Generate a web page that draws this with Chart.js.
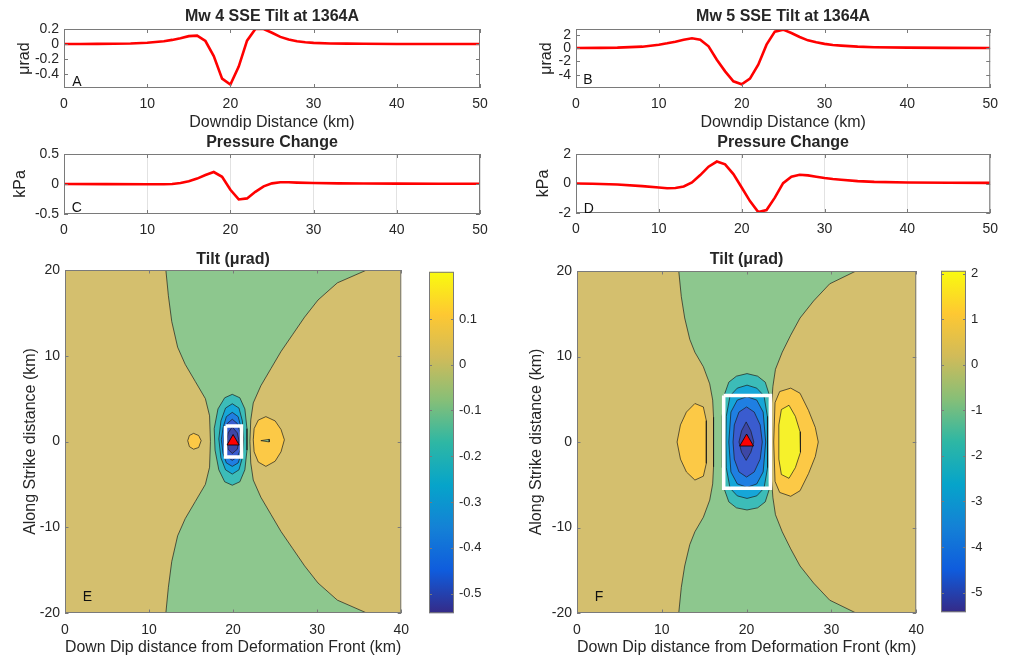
<!DOCTYPE html>
<html><head><meta charset="utf-8">
<script src="https://cdn.jsdelivr.net/npm/chart.js@4.4.1/dist/chart.umd.min.js"></script>
<style>
html,body{margin:0;padding:0;background:#fff;}
#wrap{position:relative;width:1010px;height:660px;overflow:hidden;background:#fff;}
canvas{position:absolute;}
</style></head><body><div id="wrap"></div>
<script>
// ---------- line panels (A-D) ----------
const tiltMw4X = [0,2,4,6,8,10,11,12,13,14,15,16,17,18,19,20,21,22,23,24,25,26,27,28,29,30,32,34,36,40,45,50];
const tiltMw4Y = [0,0.001,0.002,0.004,0.008,0.018,0.027,0.038,0.055,0.078,0.105,0.112,0.04,-0.16,-0.46,-0.54,-0.3,0.045,0.2,0.2,0.15,0.095,0.06,0.037,0.024,0.016,0.008,0.005,0.003,0.001,0.0005,0];
const tiltMw5X = [0,3,5,8,10,11,12,13,14,15,16,17,18,19,20,21,22,23,24,25,26,27,28,29,30,31,32,34,36,40,45,50];
const tiltMw5Y = [0,0.02,0.05,0.2,0.5,0.7,0.95,1.25,1.45,1.25,0.25,-1.75,-3.5,-5.0,-5.45,-4.6,-2.5,0.5,2.45,2.75,2.25,1.65,1.15,0.85,0.62,0.45,0.35,0.2,0.12,0.05,0.02,0.01];
const presMw4X = [0,5,10,12,13,14,15,16,17,18,19,20,21,22,23,24,25,26,27,28,30,33,36,40,45,50];
const presMw4Y = [0,-0.002,-0.005,-0.005,0,0.017,0.046,0.09,0.15,0.2,0.12,-0.097,-0.257,-0.24,-0.13,-0.04,0.011,0.029,0.029,0.023,0.017,0.011,0.008,0.006,0.004,0.003];
const presMw5X = [0,2,5,8,10,11,12,13,14,15,16,17,18,19,20,21,22,23,24,25,26,27,28,29,30,31,32,34,36,40,45,50];
const presMw5Y = [0,-0.02,-0.07,-0.18,-0.27,-0.32,-0.3,-0.2,0.07,0.57,1.14,1.49,1.3,0.64,-0.27,-1.19,-1.94,-1.8,-0.96,0.02,0.46,0.59,0.55,0.46,0.37,0.3,0.25,0.16,0.11,0.07,0.05,0.04];

const xTicks50 = [0,10,20,30,40,50];
const yTicksA = [-0.4,-0.2,0,0.2];
const yTicksB = [-4,-2,0,2];
const yTicksC = [-0.5,0,0.5];
const yTicksD = [-2,0,2];

// ---------- contour panels (E, F) ----------
const xTicks40 = [0,10,20,30,40];
const yTicks20 = [-20,-10,0,10,20];
const cbTicksE = [-0.5,-0.4,-0.3,-0.2,-0.1,0,0.1];
const cbTicksF = [-5,-4,-3,-2,-1,0,1,2];
const cbRangeE = [-0.543, 0.203];
const cbRangeF = [-5.43, 2.06];

// Mw 4 contour outlines (km)
const eGreenX = [12.0,12.3,12.7,13.4,14.3,15.5,16.7,17.2,17.3,17.2,16.7,15.5,14.3,13.4,12.7,12.3,12.0, 35.9,32.4,30.1,28.5,27.1,25.7,24.5,23.3,22.4,22.1,22.0,22.1,22.4,23.3,24.5,25.7,27.1,28.5,30.1,32.4,35.9];
const eGreenY = [20,17,14,11,9,7,5,3,0,-3,-5,-7,-9,-11,-14,-17,-20, -20,-18.5,-16.5,-14.5,-12.5,-10.5,-8.5,-6.5,-4.5,-2.5,0,2.5,4.5,6.5,8.5,10.5,12.5,14.5,16.5,18.5,20];
const eL1X = [19.9,20.8,21.4,21.65,21.65,21.4,20.8,19.9,19.0,18.3,17.85,17.75,18.2,19.0];
const eL1Y = [5.5,5.1,3.8,1.5,-1.0,-3.3,-4.7,-5.1,-4.7,-3.3,-1.0,1.5,3.8,5.1];
const eL2X = [19.9,20.7,21.1,21.25,21.1,20.7,19.9,19.1,18.55,18.3,18.55,19.1];
const eL2Y = [4.4,3.9,2.4,0.3,-1.9,-3.3,-3.8,-3.3,-1.9,0.3,2.4,3.9];
const eL3X = [19.9,20.6,20.95,21.0,20.95,20.6,19.9,19.2,18.8,18.6,18.8,19.2];
const eL3Y = [3.4,2.9,1.6,0.2,-1.4,-2.5,-2.9,-2.5,-1.4,0.2,1.6,2.9];
const eL4X = [19.9,20.5,20.85,20.9,20.85,20.5,19.9,19.3,19.0,18.9,19.0,19.3];
const eL4Y = [2.6,2.1,1.0,0.1,-0.9,-1.8,-2.2,-1.8,-0.9,0.1,1.0,2.1];
const eL5X = [19.9,20.5,20.7,20.5,19.9,19.4,19.25,19.4];
const eL5Y = [1.7,1.0,0.1,-0.9,-1.4,-0.9,0.1,1.0];
const eOrangeLX = [15.3,15.9,16.2,15.9,15.3,14.8,14.6,14.8];
const eOrangeLY = [0.95,0.7,0.1,-0.7,-0.9,-0.6,0.1,0.7];
const eOrangeRX = [23.9,25.0,25.7,26.1,25.7,25.0,23.9,23.0,22.5,22.4,22.5,23.0];
const eOrangeRY = [2.9,2.4,1.4,0.2,-1.2,-2.3,-2.9,-2.4,-1.2,0.2,1.5,2.5];
const eSliverX = [23.3,24.3,24.3];
const eSliverY = [0.1,0.25,-0.05];
const eBoxX = [19.1,21.0,21.0,19.1];
const eBoxY = [1.8,1.8,-1.8,-1.8];

// Mw 5 contour outlines (km)
const fGreenX = [12.0,12.3,12.7,13.3,13.9,14.9,15.65,16.0,16.1,16.1,16.1,16.0,15.65,14.9,13.9,13.3,12.7,12.3,12.0, 32.9,29.8,27.9,26.3,25.2,24.2,23.4,23.1,22.95,22.95,22.95,23.1,23.4,24.2,25.2,26.3,27.9,29.8,32.9];
const fGreenY = [20,17,14.5,12,10.5,8.8,6.8,4.9,2.9,0,-2.9,-4.9,-6.8,-8.8,-10.5,-12,-14.5,-17,-20, -20,-18.5,-16.5,-14.5,-12.5,-10.5,-8.5,-6.5,-4.5,0,4.5,6.5,8.5,10.5,12.5,14.5,16.5,18.5,20];
const fL1X = [20.05,21.3,22.2,22.65,22.8,22.8,22.8,22.65,22.2,21.3,20.05,18.8,17.9,17.4,17.15,17.1,17.15,17.4,17.9,18.8];
const fL1Y = [8.0,7.7,7.0,5.6,3.0,0,-3.0,-5.6,-7.0,-7.7,-7.95,-7.7,-7.0,-5.6,-3.0,0,3.0,5.6,7.0,7.7];
const fL2X = [20.05,21.2,22.05,22.45,22.5,22.45,22.05,21.2,20.05,18.9,18.05,17.6,17.55,17.6,18.05,18.9];
const fL2Y = [6.65,6.3,5.4,3.0,0,-3.0,-5.4,-6.3,-6.6,-6.3,-5.4,-3.0,0,3.0,5.4,6.3];
const fL3X = [20.05,21.2,21.95,22.25,21.95,21.2,20.05,18.9,18.15,17.9,18.15,18.9];
const fL3Y = [5.3,4.9,3.5,0,-3.5,-4.9,-5.3,-4.9,-3.5,0,3.5,4.9];
const fL4X = [20.0,20.9,21.6,21.85,21.6,20.9,20.0,19.1,18.55,18.4,18.55,19.1];
const fL4Y = [4.1,3.5,2.0,0,-2.0,-3.5,-4.1,-3.5,-2.0,0,2.0,3.5];
const fL5X = [19.95,20.5,20.85,20.5,19.95,19.4,19.1,19.4];
const fL5Y = [2.35,1.3,0,-1.2,-2.15,-1.2,0,1.3];
const fOrangeLX = [13.9,14.9,15.25,15.25,14.9,13.9,12.9,12.2,11.8,12.2,12.9];
const fOrangeLY = [4.5,4.1,2.5,-2.5,-4.0,-4.45,-3.5,-2.0,0,2.0,3.5];
const fOrangeRX = [25.2,26.3,27.3,28.1,28.45,28.1,27.3,26.3,25.2,23.9,23.35,23.2,23.35,23.9];
const fOrangeRY = [6.3,5.7,3.7,1.7,0,-1.7,-3.7,-5.7,-6.35,-5.9,-4.6,0,4.6,5.9];
const fYellowX = [25.0,25.75,26.3,26.4,26.3,25.75,25.0,24.1,23.8,23.8,24.1];
const fYellowY = [4.3,3.0,1.2,0,-1.2,-3.0,-4.25,-3.8,-2.0,2.0,3.8];
const fBoxX = [17.3,22.8,22.8,17.3];
const fBoxY = [5.45,5.45,-5.4,-5.4];

const stationX = [20];
const stationY = [0];

// ---------- styling ----------
const OLIVE = '#D4BF6E', GREEN = '#8DC78E', TEAL = '#3CBCB8', CYAN = '#16A6D8',
      BLUE = '#1F7FE2', MBLUE = '#3A5CCF', DBLUE = '#3D47A6', ORANGE = '#FCC946', YELLOW = '#F6F12B';
const PARULA = [[0,'#352A87'],[0.125,'#0F5CDD'],[0.25,'#1481D6'],[0.375,'#06A4CA'],[0.5,'#2EB7A4'],[0.625,'#87BF77'],[0.75,'#D1BB59'],[0.875,'#FEC832'],[1,'#F9FB0E']];
const FONT = '"Liberation Sans", Arial, Helvetica, sans-serif';
Chart.defaults.font.family = FONT;
Chart.defaults.color = '#262626';

// ---------- plugins ----------
const matBox = {
  id: 'matBox',
  afterDatasetsDraw(chart, args, o) {
    const {ctx, chartArea: a, scales} = chart;
    ctx.save();
    ctx.strokeStyle = o.color || '#7a7a7a';
    ctx.lineWidth = 1;
    ctx.strokeRect(a.left + 0.5, a.top + 0.5, a.right - a.left - 1, a.bottom - a.top - 1);
    const L = o.tick || 4;
    ctx.beginPath();
    if (o.xTicks !== false) {
      for (const t of scales.x.ticks) {
        const p = Math.round(scales.x.getPixelForValue(t.value)) + 0.5;
        ctx.moveTo(p, a.bottom); ctx.lineTo(p, a.bottom - L);
        ctx.moveTo(p, a.top); ctx.lineTo(p, a.top + L);
      }
    }
    for (const t of scales.y.ticks) {
      const p = Math.round(scales.y.getPixelForValue(t.value)) + 0.5;
      ctx.moveTo(a.left, p); ctx.lineTo(a.left + L, p);
      ctx.moveTo(a.right, p); ctx.lineTo(a.right - L, p);
    }
    ctx.stroke();
    ctx.restore();
  }
};
const panelLabel = {
  id: 'panelLabel',
  afterDatasetsDraw(chart, args, o) {
    if (!o.text) return;
    const {ctx, chartArea: a} = chart;
    ctx.save();
    ctx.font = '14px ' + FONT;
    ctx.fillStyle = '#111';
    ctx.textAlign = 'center';
    ctx.textBaseline = 'middle';
    ctx.fillText(o.text, a.left + o.dx, a.bottom - o.dy);
    ctx.restore();
  }
};
const areaBg = {
  id: 'areaBg',
  beforeDatasetsDraw(chart, args, o) {
    if (!o.color) return;
    const {ctx, chartArea: a} = chart;
    ctx.save(); ctx.fillStyle = o.color;
    ctx.fillRect(a.left, a.top, a.right - a.left, a.bottom - a.top);
    ctx.restore();
  }
};

function makeCanvas(area, pad) {
  const c = document.createElement('canvas');
  const w = area.r - area.l + pad.l + pad.r, h = area.b - area.t + pad.t + pad.b;
  c.width = w; c.height = h;
  c.style.left = (area.l - pad.l) + 'px'; c.style.top = (area.t - pad.t) + 'px';
  c.style.width = w + 'px'; c.style.height = h + 'px';
  document.getElementById('wrap').appendChild(c);
  return c;
}
const pts = (xs, ys) => xs.map((x, i) => ({x, y: ys[i]}));
const ring = (xs, ys) => { const p = pts(xs, ys); p.push({...p[0]}); return p; };
const fixTicks = arr => s => { s.ticks = arr.map(v => ({value: v})); };

function lineChart(cfg) {
  const c = makeCanvas(cfg.area, cfg.pad);
  return new Chart(c, {
    type: 'line',
    data: {datasets: [{data: pts(cfg.xs, cfg.ys), borderColor: '#ff0000', borderWidth: 2.6,
      pointRadius: 0, tension: 0, fill: false}]},
    options: {
      responsive: false, animation: false, devicePixelRatio: 1,
      layout: {padding: {left: 0, top: 0, right: cfg.pad.r, bottom: 0}},
      plugins: {legend: {display: false}, tooltip: {enabled: false},
        matBox: {tick: 4}, panelLabel: {text: cfg.letter, dx: cfg.ldx, dy: cfg.ldy}},
      scales: {
        x: {type: 'linear', min: 0, max: 50, afterBuildTicks: fixTicks(xTicks50),
          ticks: {padding: 8, font: {size: 14}, maxRotation: 0, autoSkip: false, callback: v => String(v)},
          grid: {display: !!cfg.grid, color: '#e2e2e2', drawTicks: false},
          border: {display: false},
          title: cfg.xTitle ? {display: true, text: cfg.xTitle, font: {size: 16}, padding: {top: 0, bottom: 2.4}} : {display: false},
          afterFit: s => { s.height = cfg.pad.b; }},
        y: {type: 'linear', min: cfg.ymin, max: cfg.ymax, afterBuildTicks: fixTicks(cfg.yTicks),
          ticks: {padding: 5, font: {size: 14}, autoSkip: false, callback: v => String(v)},
          grid: {display: false, drawTicks: false}, border: {display: false},
          title: {display: true, text: cfg.yTitle, font: {size: 16}, padding: {top: cfg.ytp, bottom: 0}},
          afterFit: s => { s.width = cfg.pad.l; }},
        t: {axis: 'x', type: 'linear', position: 'top', min: 0, max: 50,
          ticks: {display: false}, grid: {display: false, drawTicks: false}, border: {display: false},
          title: {display: true, text: cfg.title, font: {size: 16, weight: 'bold'}, padding: {top: cfg.ttp, bottom: 0}},
          afterFit: s => { s.height = cfg.pad.t; }}
      }
    },
    plugins: [matBox, panelLabel]
  });
}

function contourChart(cfg) {
  const c = makeCanvas(cfg.area, cfg.pad);
  const n = cfg.polys.length;
  const datasets = cfg.polys.map((p, i) => ({
    data: ring(p.x, p.y), showLine: true, fill: 'shape', backgroundColor: p.color,
    borderColor: 'rgba(25,25,25,0.85)', borderWidth: 0.8, pointRadius: 0, tension: 0, order: n - i + 5
  }));
  datasets.push({data: ring(cfg.boxX, cfg.boxY), showLine: true, fill: false, borderColor: '#ffffff',
    borderWidth: 3.5, pointRadius: 0, tension: 0, order: 2});
  datasets.push({data: pts(stationX, stationY), showLine: false, pointStyle: 'triangle',
    pointRadius: cfg.triR, backgroundColor: '#ff0000', borderColor: '#000000', borderWidth: 0.8, order: 1});
  return new Chart(c, {
    type: 'scatter',
    data: {datasets},
    options: {
      responsive: false, animation: false, devicePixelRatio: 1,
      layout: {padding: {left: 0, top: 0, right: cfg.pad.r, bottom: 0}},
      plugins: {legend: {display: false}, tooltip: {enabled: false},
        areaBg: {color: OLIVE}, matBox: {tick: 3.5}, panelLabel: {text: cfg.letter, dx: cfg.ldx, dy: cfg.ldy}},
      scales: {
        x: {type: 'linear', min: 0, max: 40, afterBuildTicks: fixTicks(xTicks40),
          ticks: {padding: 9, font: {size: 14}, maxRotation: 0, autoSkip: false, callback: v => String(v)},
          grid: {display: false, drawTicks: false}, border: {display: false},
          title: {display: true, text: 'Down Dip distance from Deformation Front (km)', font: {size: 16}, padding: {top: 0, bottom: 2.4}},
          afterFit: s => { s.height = cfg.pad.b; }},
        y: {type: 'linear', min: -20, max: 20, afterBuildTicks: fixTicks(yTicks20),
          ticks: {padding: 5, font: {size: 14}, autoSkip: false, callback: v => String(v)},
          grid: {display: false, drawTicks: false}, border: {display: false},
          title: {display: true, text: 'Along Strike distance (km)', font: {size: 16}, padding: {top: cfg.ytp, bottom: 0}},
          afterFit: s => { s.width = cfg.pad.l; }},
        t: {axis: 'x', type: 'linear', position: 'top', min: 0, max: 40,
          ticks: {display: false}, grid: {display: false, drawTicks: false}, border: {display: false},
          title: {display: true, text: 'Tilt (μrad)', font: {size: 16, weight: 'bold'}, padding: {top: cfg.ttp, bottom: 0}},
          afterFit: s => { s.height = cfg.pad.t; }}
      }
    },
    plugins: [areaBg, matBox, panelLabel]
  });
}

function colorbar(cfg) {
  const c = makeCanvas(cfg.area, cfg.pad);
  const [mn, mx] = cfg.range;
  return new Chart(c, {
    type: 'bar',
    data: {labels: [''], datasets: [{data: [[mn, mx]],
      backgroundColor: ctx => {
        const ch = ctx.chart;
        if (!ch.chartArea || !ch.scales.y) return '#888';
        const y = ch.scales.y;
        const g = ch.ctx.createLinearGradient(0, y.getPixelForValue(mn), 0, y.getPixelForValue(mx));
        PARULA.forEach(([t, col]) => g.addColorStop(t, col));
        return g;
      },
      borderWidth: 0, borderSkipped: false, barPercentage: 1, categoryPercentage: 1}]},
    options: {
      responsive: false, animation: false, devicePixelRatio: 1,
      layout: {padding: {left: cfg.pad.l, top: cfg.pad.t, bottom: cfg.pad.b, right: 0}},
      plugins: {legend: {display: false}, tooltip: {enabled: false}, matBox: {tick: 3, xTicks: false}},
      scales: {
        x: {display: false},
        y: {position: 'right', min: mn, max: mx, afterBuildTicks: fixTicks(cfg.ticks),
          ticks: {padding: 5, font: {size: 13}, autoSkip: false, callback: v => String(v)},
          grid: {display: false, drawTicks: false}, border: {display: false},
          afterFit: s => { s.width = cfg.pad.r; }}
      }
    },
    plugins: [matBox]
  });
}

// ---------- build ----------
lineChart({area: {l: 64, t: 29, r: 480, b: 88}, pad: {l: 64, t: 29, r: 20, b: 47},
  xs: tiltMw4X, ys: tiltMw4Y, ymin: -0.585, ymax: 0.2, yTicks: yTicksA,
  title: 'Mw 4 SSE Tilt at 1364A', ttp: 7.4, yTitle: 'μrad', ytp: 15.4,
  xTitle: 'Downdip Distance (km)', letter: 'A', ldx: 13, ldy: 5.5});
lineChart({area: {l: 576, t: 29, r: 991, b: 88}, pad: {l: 64, t: 29, r: 15, b: 47},
  xs: tiltMw5X, ys: tiltMw5Y, ymin: -6, ymax: 2.85, yTicks: yTicksB,
  title: 'Mw 5 SSE Tilt at 1364A', ttp: 7.4, yTitle: 'μrad', ytp: 25,
  xTitle: 'Downdip Distance (km)', letter: 'B', ldx: 12, ldy: 7.5});
lineChart({area: {l: 64, t: 154, r: 480, b: 214}, pad: {l: 64, t: 22, r: 20, b: 36},
  xs: presMw4X, ys: presMw4Y, ymin: -0.5, ymax: 0.5, yTicks: yTicksC, grid: true,
  title: 'Pressure Change', ttp: 1.4, yTitle: 'kPa', ytp: 10.9,
  letter: 'C', ldx: 12.7, ldy: 5.5});
lineChart({area: {l: 576, t: 154, r: 991, b: 213}, pad: {l: 64, t: 22, r: 15, b: 36},
  xs: presMw5X, ys: presMw5Y, ymin: -2, ymax: 2, yTicks: yTicksD, grid: true,
  title: 'Pressure Change', ttp: 1.4, yTitle: 'kPa', ytp: 22.4,
  letter: 'D', ldx: 12.7, ldy: 4.3});

contourChart({area: {l: 65, t: 270, r: 408, b: 613}, pad: {l: 65, t: 26, r: 10, b: 47},
  ttp: 6.4, ytp: 21.4, letter: 'E', ldx: 22.5, ldy: 16.3, triR: 7,
  boxX: eBoxX, boxY: eBoxY,
  polys: [
    {x: eGreenX, y: eGreenY, color: GREEN},
    {x: eL1X, y: eL1Y, color: TEAL},
    {x: eL2X, y: eL2Y, color: CYAN},
    {x: eL3X, y: eL3Y, color: BLUE},
    {x: eL4X, y: eL4Y, color: MBLUE},
    {x: eL5X, y: eL5Y, color: DBLUE},
    {x: eOrangeLX, y: eOrangeLY, color: ORANGE},
    {x: eOrangeRX, y: eOrangeRY, color: ORANGE},
    {x: eSliverX, y: eSliverY, color: GREEN}
  ]});
contourChart({area: {l: 577, t: 271, r: 921, b: 613}, pad: {l: 65, t: 27, r: 12, b: 47},
  ttp: 6.4, ytp: 15.4, letter: 'F', ldx: 22, ldy: 16, triR: 8,
  boxX: fBoxX, boxY: fBoxY,
  polys: [
    {x: fGreenX, y: fGreenY, color: GREEN},
    {x: fL1X, y: fL1Y, color: TEAL},
    {x: fL2X, y: fL2Y, color: CYAN},
    {x: fL3X, y: fL3Y, color: BLUE},
    {x: fL4X, y: fL4Y, color: MBLUE},
    {x: fL5X, y: fL5Y, color: DBLUE},
    {x: fOrangeLX, y: fOrangeLY, color: ORANGE},
    {x: fOrangeRX, y: fOrangeRY, color: ORANGE},
    {x: fYellowX, y: fYellowY, color: YELLOW}
  ]});

colorbar({area: {l: 429, t: 271, r: 454, b: 614}, pad: {l: 2, t: 12, r: 40, b: 12}, range: cbRangeE, ticks: cbTicksE});
colorbar({area: {l: 941, t: 270, r: 966, b: 613}, pad: {l: 2, t: 12, r: 40, b: 12}, range: cbRangeF, ticks: cbTicksF});
</script></body></html>
